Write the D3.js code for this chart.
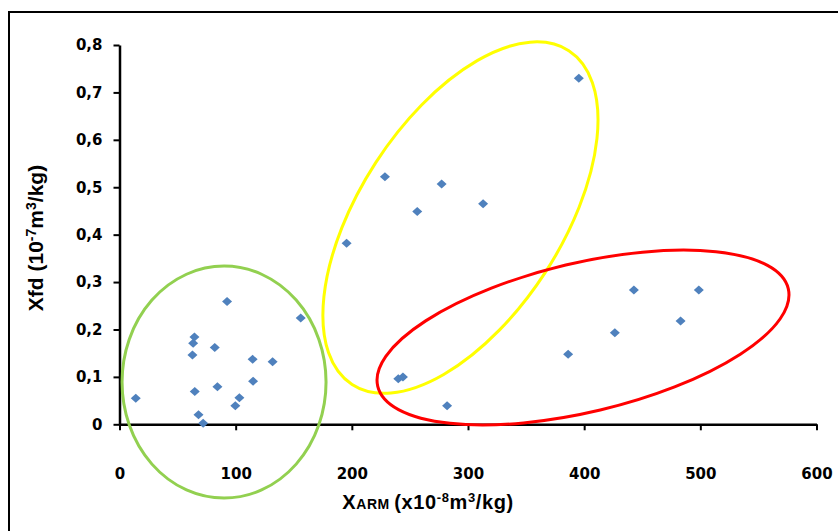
<!DOCTYPE html>
<html>
<head>
<meta charset="utf-8">
<script src="https://cdn.jsdelivr.net/npm/d3@7"></script>
<style>
  html, body { margin: 0; padding: 0; background: #fff; }
  svg { display: block; }
</style>
</head>
<body>
<svg id="chart" width="838" height="531"></svg>
<script>
// ---- Data ----
const xArm = [14, 64.5, 63.4, 62.8, 92.6, 82, 156, 114.6, 131.8, 115, 64.8, 84.3, 103.2, 99.7, 68, 72,
              395.4, 228.5, 277.3, 256.3, 313, 195.5,
              442.8, 498.7, 483, 426.4, 386.2, 240, 244, 282];
const xfd  = [0.055, 0.184, 0.171, 0.146, 0.259, 0.162, 0.224, 0.137, 0.132, 0.091, 0.069, 0.079, 0.056, 0.039, 0.020, 0.002,
              0.730, 0.522, 0.507, 0.449, 0.465, 0.382,
              0.283, 0.283, 0.218, 0.193, 0.148, 0.096, 0.100, 0.039];
const xTicks = [0, 100, 200, 300, 400, 500, 600];
const yTicks = [0, 0.1, 0.2, 0.3, 0.4, 0.5, 0.6, 0.7, 0.8];
const yTickLabels = ["0", "0,1", "0,2", "0,3", "0,4", "0,5", "0,6", "0,7", "0,8"];

// Group ellipses (centres in data units)
const groupNames   = ["green", "yellow", "red"];
const groupCentreX = [90, 293.5, 399];
const groupCentreY = [0.089, 0.436, 0.183];

// ---- Layout / style ----
const ellipseStyle = {
  green:  { color: "#92D050", rx: 102, ry: 116, angle: 0 },
  yellow: { color: "#FFFF00", rx: 199, ry: 101, angle: -57 },
  red:    { color: "#FF0000", rx: 211, ry: 74.5, angle: -13.4 }
};

const svg = d3.select("#chart");
const m = { left: 119.5, top: 45, right: 838 - 816.5, bottom: 531 - 424.3 };
const W = 838, H = 531;

const x = d3.scaleLinear().domain([0, 600]).range([m.left, W - m.right]);
const y = d3.scaleLinear().domain([0, 0.8]).range([H - m.bottom, m.top]);

// outer frame (extends past right and bottom edges)
svg.append("rect")
  .attr("x", 9).attr("y", 12)
  .attr("width", 840).attr("height", 540)
  .attr("fill", "#fff").attr("stroke", "#000").attr("stroke-width", 2);

// axes
const fontTicks = "'DejaVu Sans', Verdana, sans-serif";
const xAxis = d3.axisBottom(x).tickValues(xTicks).tickSize(6).tickSizeOuter(0).tickPadding(38)
  .tickFormat(d3.format("d"));
const yAxis = d3.axisLeft(y).tickValues(yTicks).tickSize(6).tickSizeOuter(0).tickPadding(11)
  .tickFormat((d, i) => yTickLabels[i]);

const gx = svg.append("g").attr("transform", `translate(0,${y(0)})`).call(xAxis);
const gy = svg.append("g").attr("transform", `translate(${x(0)},0)`).call(yAxis);
[gx, gy].forEach(g => {
  g.select(".domain").attr("stroke", "#000").attr("stroke-width", 2.5);
  g.selectAll(".tick line").attr("stroke", "#000").attr("stroke-width", 2);
  g.selectAll(".tick text").attr("fill", "#000")
    .style("font-family", fontTicks).style("font-weight", "bold").style("font-size", "15px");
});

// points
const pts = xArm.map((v, i) => ({ x: v, y: xfd[i] }));
svg.append("g").selectAll("path")
  .data(pts).join("path")
  .attr("d", "M0,-4.5L5,0L0,4.5L-5,0Z")
  .attr("transform", d => `translate(${x(d.x)},${y(d.y)})`)
  .attr("fill", "#4F81BD");

// ellipses
svg.append("g").selectAll("ellipse")
  .data(groupNames.map((n, i) => ({ n, cx: groupCentreX[i], cy: groupCentreY[i] })))
  .join("ellipse")
  .attr("cx", 0).attr("cy", 0)
  .attr("rx", d => ellipseStyle[d.n].rx)
  .attr("ry", d => ellipseStyle[d.n].ry)
  .attr("transform", d => `translate(${x(d.cx)},${y(d.cy)}) rotate(${ellipseStyle[d.n].angle})`)
  .attr("fill", "none")
  .attr("stroke", d => ellipseStyle[d.n].color)
  .attr("stroke-width", 3);

// axis titles
const fontLab = "'Liberation Sans', Arial, sans-serif";
const yl = svg.append("text")
  .attr("transform", "translate(43,238) rotate(-90)")
  .attr("text-anchor", "middle")
  .style("font-family", fontLab).style("font-weight", "bold").style("font-size", "21px")
  .attr("fill", "#000");
yl.append("tspan").text("Xfd (10");
yl.append("tspan").attr("dy", -7).style("font-size", "14px").text("-7");
yl.append("tspan").attr("dy", 7).text("m");
yl.append("tspan").attr("dy", -7).style("font-size", "14px").text("3");
yl.append("tspan").attr("dy", 7).text("/kg)");

const xl = svg.append("text")
  .attr("x", 428).attr("y", 509)
  .attr("text-anchor", "middle")
  .style("font-family", fontLab).style("font-weight", "bold").style("font-size", "20px")
  .style("letter-spacing", "0.6px")
  .attr("fill", "#000");
xl.append("tspan").text("X");
xl.append("tspan").style("font-size", "14px").text("ARM ");
xl.append("tspan").text("(x10");
xl.append("tspan").attr("dy", -7).style("font-size", "13px").text("-8");
xl.append("tspan").attr("dy", 7).text("m");
xl.append("tspan").attr("dy", -7).style("font-size", "13px").text("3");
xl.append("tspan").attr("dy", 7).text("/kg)");
</script>
</body>
</html>
